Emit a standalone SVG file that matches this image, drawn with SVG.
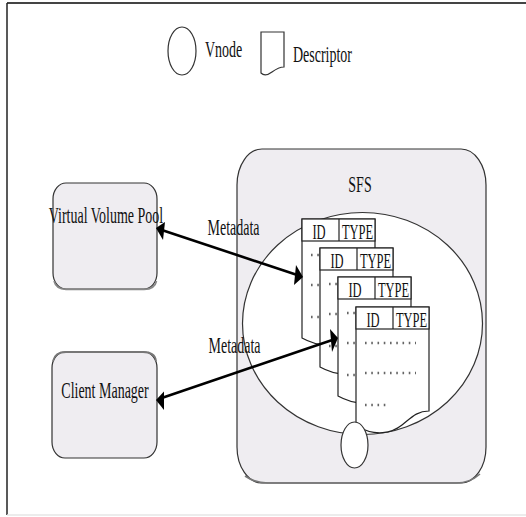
<svg xmlns="http://www.w3.org/2000/svg" width="526" height="517" viewBox="0 0 526 517">
  <defs>
    <style>
      .lbl { font-family: "Liberation Serif", "Times New Roman", serif; font-size: 14px; fill: #111; }
      .hdr { font-family: "Liberation Serif", "Times New Roman", serif; font-size: 12.5px; fill: #111; }
      .box { fill: #efedf1; stroke: #333; stroke-width: 1.2; }
      .shape { fill: #fff; stroke: #333; stroke-width: 1.2; }
      .doc { fill: #fff; stroke: #222; stroke-width: 1.2; }
      .dots { stroke: #666; stroke-width: 2.6; stroke-dasharray: 1.6 4.65; fill: none; }
      .wire { stroke: #000; stroke-width: 2.6; fill: none; }
      .head { fill: #000; }
    </style>
    <!-- one descriptor sheet: header row with ID / TYPE cells, three dotted rows, wavy bottom -->
    <g id="sheet">
      <path class="doc" d="M0,0 H73 V104 C60,104 54,112 46,118 C36,126 20,130 0,119 Z"/>
      <line class="dots" x1="9" y1="36" x2="60" y2="36"/>
      <line class="dots" x1="9" y1="66" x2="60" y2="66"/>
      <line class="dots" x1="9" y1="98" x2="34" y2="98"/>
      <rect class="doc" x="0" y="0" width="73" height="22"/>
      <line stroke="#222" stroke-width="1.2" x1="37" y1="0" x2="37" y2="22"/>
      <text class="hdr" text-anchor="middle" transform="translate(17,19.5) scale(1,1.65)">ID</text>
      <text class="hdr" text-anchor="middle" transform="translate(55.5,19.5) scale(1,1.65)">TYPE</text>
    </g>
  </defs>

  <!-- page frame -->
  <rect x="0" y="0" width="526" height="517" fill="#fff"/>
  <line x1="7" y1="3" x2="526" y2="3" stroke="#444" stroke-width="2"/>
  <line x1="7" y1="3" x2="7" y2="515" stroke="#222" stroke-width="1.5"/>
  <line x1="7" y1="515" x2="526" y2="515" stroke="#e6e6e6" stroke-width="1.5"/>

  <!-- legend -->
  <g id="legend">
    <ellipse class="shape" cx="182" cy="51" rx="14" ry="24" stroke="#555"/>
    <text class="lbl" transform="translate(205,57) scale(1,1.65)">Vnode</text>
    <path class="shape" d="M261,32 H284 V67 C279,67 276,69 272,72 C268,75 264,76 261,73 Z"/>
    <text class="lbl" transform="translate(293,62) scale(1,1.65)">Descriptor</text>
  </g>

  <!-- client-side nodes -->
  <g id="virtual-volume-pool">
    <rect class="box" x="53" y="183" width="104" height="106" rx="13" ry="16"/>
    <path d="M54,281 Q56,289 66,289.5 H144 Q155,289 156.5,281" fill="none" stroke="#888" stroke-width="1.6"/>
    <text class="lbl" text-anchor="middle" transform="translate(106,223) scale(1,1.65)">Virtual Volume Pool</text>
  </g>

  <g id="client-manager">
    <rect class="box" x="52" y="352" width="105" height="106" rx="13" ry="16"/>
    <path d="M53,361 Q55,352 66,352 H143 Q155,352 156,361" fill="none" stroke="#777" stroke-width="1.8"/>
    <text class="lbl" text-anchor="middle" transform="translate(105,398) scale(1,1.65)">Client Manager</text>
  </g>

  <!-- SFS container with its vnode space and descriptors -->
  <g id="sfs">
    <rect class="box" x="237" y="149" width="249" height="334" rx="25" ry="36"/>
    <path d="M245,476 Q255,483 268,483 H456 Q470,483 480,474" fill="none" stroke="#777" stroke-width="1.6"/>
    <text class="lbl" text-anchor="middle" transform="translate(360,192) scale(1,1.65)">SFS</text>
    <ellipse class="shape" cx="362.5" cy="323.5" rx="120" ry="111"/>
  </g>

  <g id="descriptor-1"><use href="#sheet" x="302" y="219"/></g>
  <g id="descriptor-2"><use href="#sheet" x="320" y="248"/></g>
  <g id="descriptor-3"><use href="#sheet" x="338" y="277"/></g>
  <g id="descriptor-4"><use href="#sheet" x="356" y="307"/></g>

  <g id="vnode">
    <ellipse class="shape" cx="354.5" cy="445" rx="13.5" ry="23"/>
  </g>

  <!-- metadata connectors -->
  <g id="connectors">
    <line class="wire" x1="161" y1="229.7" x2="298" y2="275.3"/>
    <polygon class="head" points="156,228 165,222 163,240"/>
    <polygon class="head" points="303,277 296,265 294,285"/>
    <text class="lbl" text-anchor="middle" transform="translate(233.5,235) scale(1,1.65)">Metadata</text>

    <line class="wire" x1="161" y1="398.3" x2="333" y2="339.7"/>
    <polygon class="head" points="156,400 164,391.5 164,410"/>
    <polygon class="head" points="338,338 330,329 332,352"/>
    <text class="lbl" text-anchor="middle" transform="translate(234.5,353) scale(1,1.65)">Metadata</text>
  </g>
</svg>
